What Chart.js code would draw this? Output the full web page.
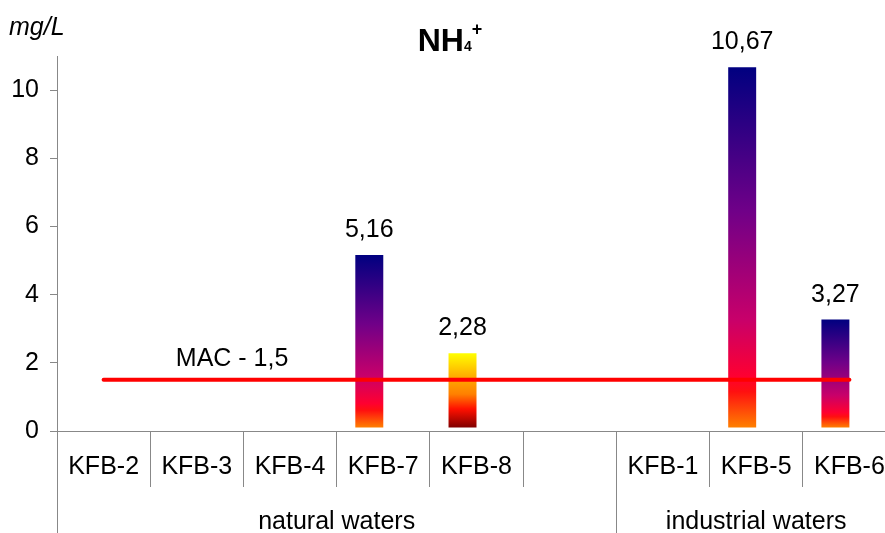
<!DOCTYPE html>
<html>
<head>
<meta charset="utf-8">
<title>NH4+</title>
<script src="https://cdn.jsdelivr.net/npm/chart.js@4/dist/chart.umd.min.js"></script>
<style>
  html, body { margin: 0; padding: 0; background: #fff; overflow: hidden; }
  #wrap { width: 885px; height: 533px; overflow: hidden; }
</style>
</head>
<body>
<div id="wrap"><canvas id="nh4Chart" width="900" height="533"></canvas></div>
<script>
// chart data
const categories = ["KFB-2", "KFB-3", "KFB-4", "KFB-7", "KFB-8", "", "KFB-1", "KFB-5", "KFB-6"];
const nh4Values = [null, null, null, 5.16, 2.28, null, null, 10.67, 3.27];
const emptySeries = [null, null, null, null, null, null, null, null, null];
const macValue = 1.5;
const yTicks = [0, 2, 4, 6, 8, 10];
const groupLabels = ["natural waters", "industrial waters"];
const groupStart = [0, 6];

const FONT = "'Liberation Sans', Arial, sans-serif";
const AXIS_GREY = "#888888";
const BAR_BASE = 0.1;

// gradient stops, top of bar -> bottom of bar
const nightStops = [
  [0, "#000080"],
  [0.4, "#700088"],
  [0.7, "#c8006a"],
  [0.86, "#ff0030"],
  [0.9, "#ff1010"],
  [1, "#ff8000"],
];
const fireStops = [
  [0, "#ffff00"],
  [0.3, "#ffb000"],
  [0.55, "#ff8000"],
  [0.75, "#ff1000"],
  [1, "#800000"],
];

function fmt(v) {
  return String(v).replace(".", ",");
}

function barFill(ctx) {
  const chart = ctx.chart;
  if (!chart.chartArea || ctx.type !== "data" || ctx.raw == null) return "#800080";
  const y = chart.scales.y;
  const top = y.getPixelForValue(ctx.raw);
  const bottom = y.getPixelForValue(BAR_BASE);
  const stops = categories[ctx.dataIndex] === "KFB-8" ? fireStops : nightStops;
  const g = chart.ctx.createLinearGradient(0, top, 0, bottom);
  stops.forEach(s => g.addColorStop(s[0], s[1]));
  return g;
}

// title, unit, value labels, MAC label and the group row under the axis
const extrasPlugin = {
  id: "extras",
  afterDraw(chart) {
    const ctx = chart.ctx;
    const xs = chart.scales.x;
    const ys = chart.scales.y;
    const area = chart.chartArea;
    ctx.save();
    ctx.fillStyle = "#000";
    ctx.textBaseline = "alphabetic";

    // title NH4+
    ctx.font = "bold 32px " + FONT;
    const wNH = ctx.measureText("NH").width;
    ctx.font = "bold 14px " + FONT;
    const w4 = ctx.measureText("4").width;
    ctx.font = "bold 18px " + FONT;
    const wPlus = ctx.measureText("+").width;
    let tx = chart.width / 2 - (wNH + w4 + wPlus) / 2;
    ctx.textAlign = "left";
    ctx.font = "bold 32px " + FONT;
    ctx.fillText("NH", tx, 51);
    tx += wNH;
    ctx.font = "bold 14px " + FONT;
    ctx.fillText("4", tx, 51);
    tx += w4;
    ctx.font = "bold 18px " + FONT;
    ctx.fillText("+", tx, 35);

    // unit
    ctx.font = "italic 25px " + FONT;
    ctx.fillText("mg/L", 9, 35);

    // value labels over bars
    const meta = chart.getDatasetMeta(0);
    ctx.font = "25px " + FONT;
    ctx.textAlign = "center";
    nh4Values.forEach((v, i) => {
      if (v == null) return;
      const bar = meta.data[i];
      const yText = Math.max(bar.y - 18, area.top - 9);
      ctx.fillText(fmt(v.toFixed(2)), bar.x, yText);
    });

    // MAC label
    ctx.textAlign = "left";
    ctx.fillText("MAC - " + fmt(macValue), xs.getPixelForValue(1) - 21, ys.getPixelForValue(macValue) - 14);

    // group separators and labels
    const step = (xs.right - xs.left) / categories.length;
    ctx.strokeStyle = AXIS_GREY;
    ctx.lineWidth = 1;
    groupStart.forEach((start, gi) => {
      const left = xs.getPixelForValue(start) - step / 2;
      const right = gi + 1 < groupStart.length
        ? xs.getPixelForValue(groupStart[gi + 1]) - step / 2
        : xs.right;
      const px = Math.round(left) + 0.5;
      ctx.beginPath();
      ctx.moveTo(px, area.bottom);
      ctx.lineTo(px, chart.height);
      ctx.stroke();
      ctx.textAlign = "center";
      ctx.fillText(groupLabels[gi], (left + right) / 2, 529);
    });
    ctx.restore();
  },
};

new Chart(document.getElementById("nh4Chart").getContext("2d"), {
  data: {
    labels: categories,
    datasets: [
      {
        type: "bar",
        label: "NH4+",
        data: nh4Values,
        base: BAR_BASE,
        backgroundColor: barFill,
        borderWidth: 0,
        categoryPercentage: 0.6,
        barPercentage: 1,
        order: 1,
      },
      {
        type: "bar",
        label: "",
        data: emptySeries,
        categoryPercentage: 0.6,
        barPercentage: 1,
        order: 2,
      },
      {
        type: "line",
        label: "MAC",
        data: categories.map(() => macValue),
        borderColor: "#ff0000",
        borderWidth: 4,
        borderCapStyle: "round",
        pointRadius: 0,
        fill: false,
        order: 0,
      },
    ],
  },
  options: {
    responsive: false,
    animation: false,
    events: [],
    layout: { padding: { top: 56, right: 4, left: 0, bottom: 0 } },
    plugins: {
      legend: { display: false },
      title: { display: false },
      tooltip: { enabled: false },
    },
    scales: {
      x: {
        offset: true,
        afterFit: scale => { scale.height = 102; },
        grid: {
          offset: true,
          drawOnChartArea: false,
          drawTicks: true,
          tickLength: 56,
          color: AXIS_GREY,
        },
        border: { color: AXIS_GREY },
        ticks: {
          color: "#000",
          font: { family: FONT, size: 25 },
          padding: -35,
          autoSkip: false,
          maxRotation: 0,
        },
      },
      y: {
        min: 0,
        max: 11,
        afterFit: scale => { scale.width = 57; },
        afterBuildTicks: scale => {
          scale.ticks = yTicks.map(v => ({ value: v }));
        },
        grid: {
          drawOnChartArea: false,
          tickLength: 7,
          color: AXIS_GREY,
        },
        border: { color: AXIS_GREY },
        ticks: {
          color: "#000",
          font: { family: FONT, size: 25 },
          padding: 11,
        },
      },
    },
  },
  plugins: [extrasPlugin],
});
</script>
</body>
</html>
